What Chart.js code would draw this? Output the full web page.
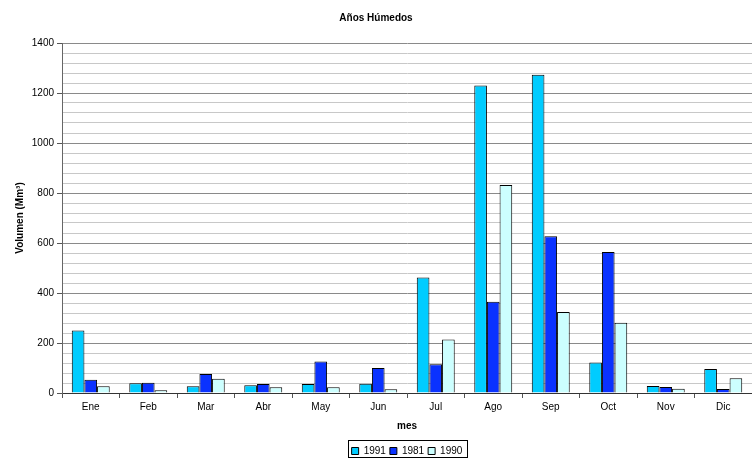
<!DOCTYPE html>
<html>
<head>
<meta charset="utf-8">
<script src="https://cdn.jsdelivr.net/npm/chart.js@4"></script>
<style>
html,body{margin:0;padding:0;background:#fff;}
#wrap{width:752px;height:459px;}
</style>
</head>
<body>
<div id="wrap"><canvas id="c" width="752" height="459"></canvas></div>
<script>
const months = ['Ene','Feb','Mar','Abr','May','Jun','Jul','Ago','Sep','Oct','Nov','Dic'];
const seriesNames = ['1991','1981','1990'];
const v1991 = [250, 39, 27, 31, 36, 37, 462, 1230, 1273, 122, 28, 96];
const v1981 = [53, 41, 76, 36, 126, 100, 115, 365, 627, 564, 24, 16];
const v1990 = [27, 11, 57, 23, 23, 15, 214, 832, 324, 281, 17, 59];
const colors = ['#00ccff', '#0a32ff', '#ccffff'];

const FONT = "'Liberation Sans', Arial, sans-serif";
const LEGEND_SHIFT = 31;

const legendPlugin = {
  id: 'legendBox',
  beforeDraw(chart) {
    const lg = chart.legend;
    if (!lg._shifted) { lg.left += LEGEND_SHIFT; lg.right += LEGEND_SHIFT; lg._shifted = true; }
  },
  afterDraw(chart) {
    const lg = chart.legend;
    const pad = lg.options.labels.padding;
    const startX = (lg.left + pad + lg.right - lg.lineWidths[0]) / 2;
    const endX = startX + lg.lineWidths[0] - pad;
    const ctx = chart.ctx;
    ctx.save();
    ctx.strokeStyle = '#000';
    ctx.lineWidth = 1;
    const center = lg.top + pad + 5;
    ctx.strokeRect(Math.round(startX - 4) + 0.5, Math.round(center - 11) + 0.5, Math.round(endX - startX + 8), 17);
    ctx.restore();
  },
  afterUpdate(chart) { chart.legend._shifted = false; }
};

new Chart(document.getElementById('c'), {
  type: 'bar',
  data: {
    labels: months,
    datasets: [
      { label: seriesNames[0], data: v1991, backgroundColor: colors[0], borderColor: '#000', borderWidth: 1 },
      { label: seriesNames[1], data: v1981, backgroundColor: colors[1], borderColor: '#000', borderWidth: 1 },
      { label: seriesNames[2], data: v1990, backgroundColor: colors[2], borderColor: '#000', borderWidth: 1 }
    ]
  },
  plugins: [legendPlugin],
  options: {
    responsive: false,
    animation: false,
    devicePixelRatio: 1,
    layout: { padding: { left: 0, right: 0, top: 0, bottom: -7 } },
    datasets: { bar: { categoryPercentage: 0.66, barPercentage: 1.0 } },
    plugins: {
      tooltip: { enabled: false },
      title: {
        display: true,
        text: 'Años Húmedos',
        color: '#000',
        font: { family: FONT, size: 10, weight: 'bold' },
        padding: { top: 12, bottom: 19 }
      },
      legend: {
        position: 'bottom',
        labels: {
          color: '#000',
          font: { family: FONT, size: 10 },
          boxWidth: 7,
          boxHeight: 7,
          padding: 4,
          useBorderRadius: false
        }
      }
    },
    scales: {
      x: {
        offset: true,
        grid: { offset: true, drawOnChartArea: false, color: '#555', tickLength: 5 },
        border: { color: '#333', width: 1 },
        ticks: { color: '#000', font: { family: FONT, size: 10 }, padding: 3, maxRotation: 0 },
        title: { display: true, text: 'mes', color: '#000', font: { family: FONT, size: 10, weight: 'bold' }, padding: { top: 4, bottom: 10 } }
      },
      y: {
        min: 0, max: 1400,
        afterFit(s) { s.width = 62; },
        grid: {
          color: c => (c.tick && c.tick.value % 200 === 0) ? '#8a8a8a' : '#c8c8c8',
          tickColor: c => (c.tick && c.tick.value % 200 === 0) ? '#555' : 'rgba(0,0,0,0)',
          tickLength: 5,
          lineWidth: 1
        },
        border: { color: '#666', width: 1 },
        ticks: {
          stepSize: 40,
          autoSkip: false,
          color: '#000',
          font: { family: FONT, size: 10 },
          padding: 3,
          callback: v => (v % 200 === 0 ? String(v) : '')
        },
        title: { display: true, text: 'Volumen (Mm³)', color: '#000', font: { family: FONT, size: 10, weight: 'bold' }, padding: { top: 14, bottom: 4 } }
      }
    }
  }
});
</script>
</body>
</html>
